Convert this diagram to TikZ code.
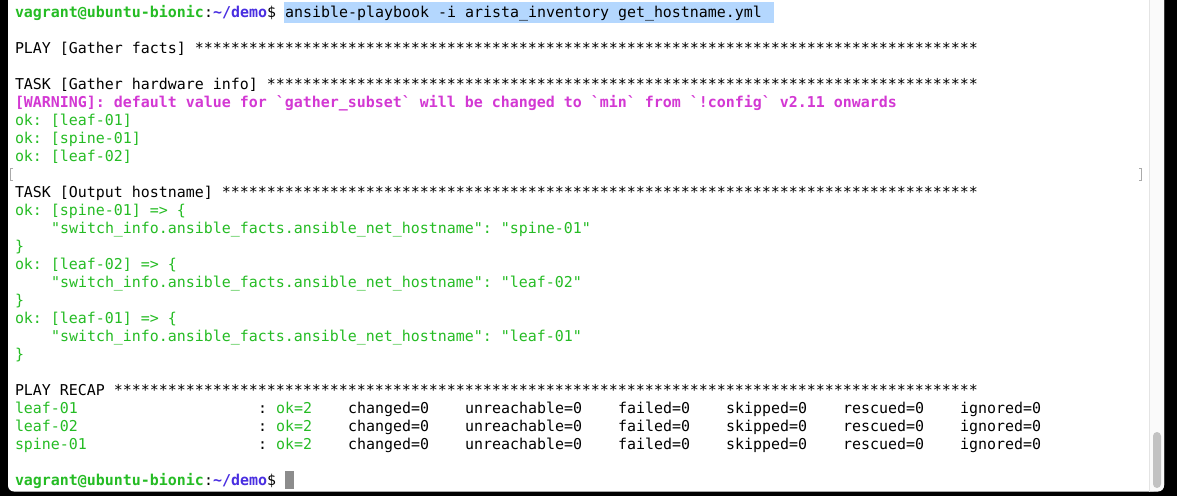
\documentclass[tikz,border=0pt]{standalone}
\usepackage{fontspec}
\setmonofont{DejaVu Sans Mono}
\ExplSyntaxOn
\NewDocumentCommand\stars{m}{\prg_replicate:nn{#1}{*}}
\ExplSyntaxOff
\definecolor{tgreen}{RGB}{37,188,36}
\definecolor{tblue}{RGB}{73,46,225}
\definecolor{tmag}{RGB}{211,56,211}
\definecolor{tsel}{RGB}{180,215,254}
\definecolor{ttrack}{RGB}{250,250,250}
\definecolor{ttrackline}{RGB}{228,228,228}
\definecolor{tthumb}{RGB}{194,194,194}
\definecolor{tcursor}{RGB}{140,140,140}
\definecolor{tmark}{RGB}{170,170,170}
\tikzset{
  term/.style={anchor=base west, inner sep=0pt, outer sep=0pt, text=black,
    font={\ttfamily\fontsize{14.95}{18}\selectfont}},
  ok/.style={term, text=tgreen},
  pr/.style={term, text=tgreen, font={\ttfamily\bfseries\fontsize{14.95}{18}\selectfont}},
  dir/.style={term, text=tblue, font={\ttfamily\bfseries\fontsize{14.95}{18}\selectfont}},
  warn/.style={term, text=tmag, font={\ttfamily\bfseries\fontsize{14.95}{18}\selectfont}},
  bookmark/.style={draw=tmark, line width=0.6pt},
}
\newcommand\tline[5]{\node[#1] (#2) at ({15+9*#3},{17.3+18*#4}) {#5};}
\begin{document}
\begin{tikzpicture}[x=1pt,y=-1pt]
\useasboundingbox (0,0) rectangle (1177,496);
% window frame
\fill[black] (0,0) rectangle (1177,496);
\fill[white, rounded corners=6pt] (8,-20) rectangle (1164,491.5);
% scrollbar
\fill[ttrack] (1149,0) -- (1164,0) -- (1164,485) arc[start angle=0,end angle=90,radius=6] -- (1149,491.5) -- cycle;
\draw[ttrackline, line width=0.8pt] (1149,0) -- (1149,491.5);
\fill[tthumb, rounded corners=4pt] (1153,432) rectangle (1161,488);
% selection highlight
\fill[tsel] (284,2) rectangle (774,23);
% line 0
\tline{pr}{p0a}{0}{0}{vagrant@ubuntu-bionic}
\tline{term}{p0b}{21}{0}{:}
\tline{dir}{p0c}{22}{0}{\textasciitilde/demo}
\tline{term}{p0d}{28}{0}{\$}
\tline{term}{cmd}{30}{0}{ansible-playbook -i arista\_inventory get\_hostname.yml}
% play
\tline{term}{play1}{0}{2}{PLAY [Gather facts] \stars{87}}
\tline{term}{task1}{0}{4}{TASK [Gather hardware info] \stars{79}}
\tline{warn}{warn1}{0}{5}{[WARNING]: default value for `gather\_subset` will be changed to `min` from `!config` v2.11 onwards}
\tline{ok}{ok1}{0}{6}{ok: [leaf-01]}
\tline{ok}{ok2}{0}{7}{ok: [spine-01]}
\tline{ok}{ok3}{0}{8}{ok: [leaf-02]}
% marks
\draw[bookmark] (13,168) -- (10.5,168) -- (10.5,180) -- (13,180);
\draw[bookmark] (1139,168) -- (1141.5,168) -- (1141.5,180) -- (1139,180);
\tline{term}{task2}{0}{10}{TASK [Output hostname] \stars{84}}
\tline{ok}{o11}{0}{11}{ok: [spine-01] => \{}
\tline{ok}{o12}{4}{12}{"switch\_info.ansible\_facts.ansible\_net\_hostname": "spine-01"}
\tline{ok}{o13}{0}{13}{\}}
\tline{ok}{o14}{0}{14}{ok: [leaf-02] => \{}
\tline{ok}{o15}{4}{15}{"switch\_info.ansible\_facts.ansible\_net\_hostname": "leaf-02"}
\tline{ok}{o16}{0}{16}{\}}
\tline{ok}{o17}{0}{17}{ok: [leaf-01] => \{}
\tline{ok}{o18}{4}{18}{"switch\_info.ansible\_facts.ansible\_net\_hostname": "leaf-01"}
\tline{ok}{o19}{0}{19}{\}}
% recap
\tline{term}{recap}{0}{21}{PLAY RECAP \stars{96}}
\foreach \h/\r in {leaf-01/22, leaf-02/23, spine-01/24}{
  \tline{ok}{h\r}{0}{\r}{\h}
  \tline{term}{c\r}{27}{\r}{:}
  \tline{ok}{k\r}{29}{\r}{ok=2}
  \tline{term}{ch\r}{37}{\r}{changed=0}
  \tline{term}{u\r}{50}{\r}{unreachable=0}
  \tline{term}{f\r}{67}{\r}{failed=0}
  \tline{term}{s\r}{79}{\r}{skipped=0}
  \tline{term}{re\r}{92}{\r}{rescued=0}
  \tline{term}{i\r}{105}{\r}{ignored=0}
}
% final prompt
\tline{pr}{q0a}{0}{26}{vagrant@ubuntu-bionic}
\tline{term}{q0b}{21}{26}{:}
\tline{dir}{q0c}{22}{26}{\textasciitilde/demo}
\tline{term}{q0d}{28}{26}{\$}
\fill[tcursor] (284.5,471) rectangle (293.5,489);
\end{tikzpicture}
\end{document}
